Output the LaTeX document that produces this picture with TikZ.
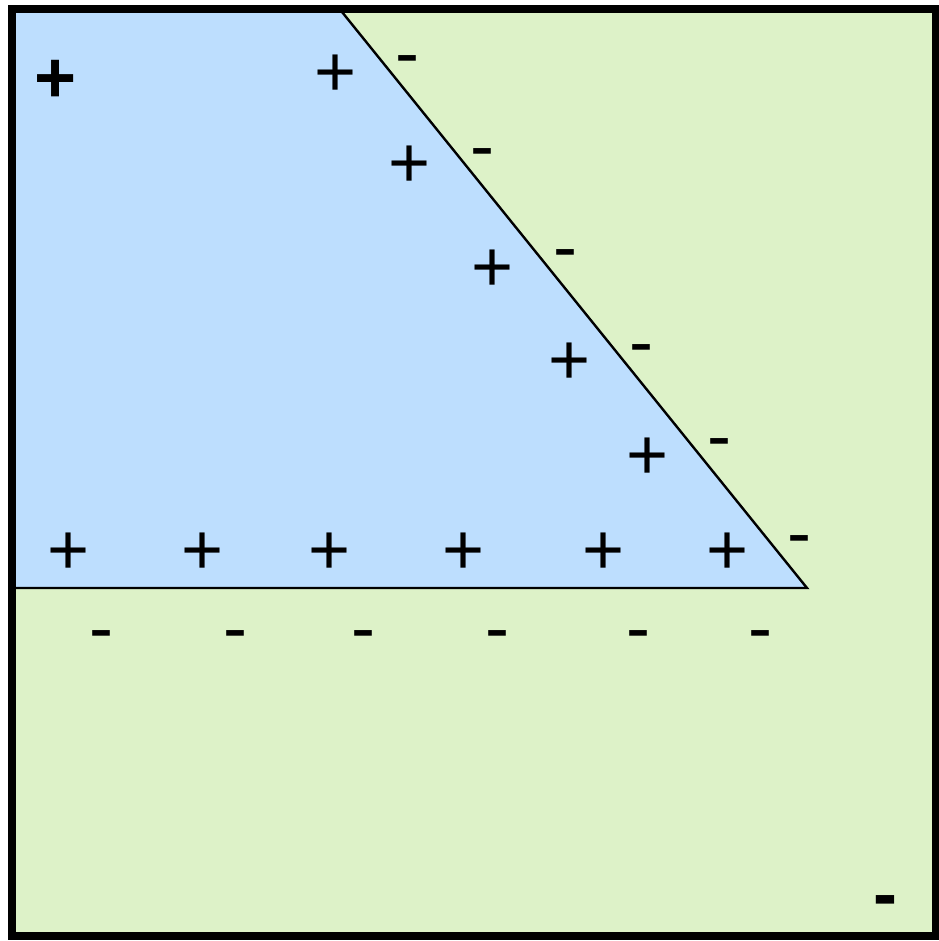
\documentclass[tikz,border=0pt]{standalone}
\usepackage{fontspec}
\setmainfont{Liberation Sans}
\definecolor{blueA}{RGB}{189,222,254}
\definecolor{greenA}{RGB}{221,242,200}
\tikzset{
  sgn/.style={inner sep=0pt, font=\fontsize{72}{72}\selectfont},
  plusn/.style={sgn, yshift=-3pt},
  minusn/.style={sgn, yshift=-10pt},
  bolder/.style={font=\fontsize{72}{72}\selectfont\bfseries},
}
\begin{document}
\begin{tikzpicture}[x=1pt,y=-1pt]
\useasboundingbox (0,0) rectangle (938,941);
\fill[white] (0,0) rectangle (938,941);
\fill[greenA] (12,9.5) rectangle (936,936);
\coordinate (tl) at (12,9.5);
\coordinate (dtop) at (340,9.5);
\coordinate (dbot) at (807,588);
\coordinate (hl) at (12,588);
\fill[blueA] (tl) -- (dtop) -- (dbot) -- (hl) -- cycle;
\draw[line width=2.4pt] (dtop) -- (dbot) -- (hl);
\draw[line width=8pt] (12,9.5) rectangle (936,936);
% plus signs
\node[plusn,bolder] (p0) at (56,78) {+};
\node[plusn] (p1) at (336,73) {+};
\node[plusn] (p2) at (410,164) {+};
\node[plusn] (p3) at (493,268) {+};
\node[plusn] (p4) at (570,361) {+};
\node[plusn] (p5) at (648,456) {+};
\node[plusn] (p6) at (69,551) {+};
\node[plusn] (p7) at (203,551) {+};
\node[plusn] (p8) at (330,551) {+};
\node[plusn] (p9) at (464,551) {+};
\node[plusn] (p10) at (604,551) {+};
\node[plusn] (p11) at (728,551) {+};
% minus signs
\node[minusn] (m1) at (407,57) {-};
\node[minusn] (m2) at (482,150) {-};
\node[minusn] (m3) at (565,251) {-};
\node[minusn] (m4) at (641,346) {-};
\node[minusn] (m5) at (719,440) {-};
\node[minusn] (m6) at (799,537) {-};
\node[minusn] (m7) at (101,632) {-};
\node[minusn] (m8) at (235,632) {-};
\node[minusn] (m9) at (363,632) {-};
\node[minusn] (m10) at (497,632) {-};
\node[minusn] (m11) at (638,632) {-};
\node[minusn] (m12) at (760,632) {-};
\node[minusn,bolder] (m13) at (885,897) {-};
\end{tikzpicture}
\end{document}
